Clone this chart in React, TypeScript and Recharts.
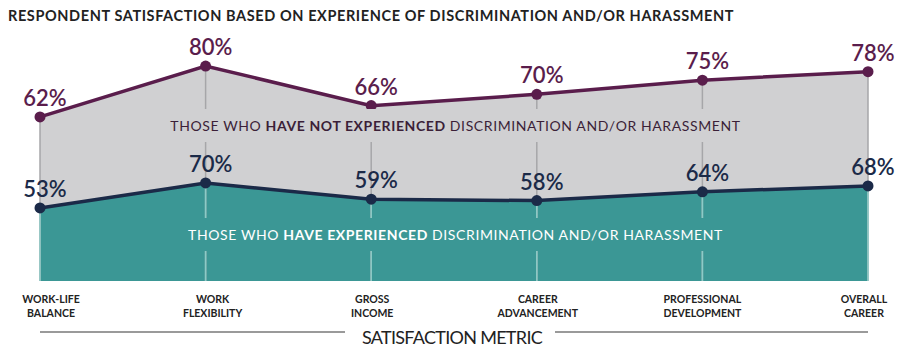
import React from 'react'
import { ComposedChart, Area, XAxis, YAxis, LabelList } from 'recharts'

const metrics = [
  'WORK-LIFE BALANCE',
  'WORK FLEXIBILITY',
  'GROSS INCOME',
  'CAREER ADVANCEMENT',
  'PROFESSIONAL DEVELOPMENT',
  'OVERALL CAREER',
]
const notExperienced = [62, 80, 66, 70, 75, 78]
const experienced = [53, 70, 59, 58, 64, 68]

const W = 909
const H = 353
const MARGIN = { top: 40, right: 41, bottom: 12, left: 40 }
const X_AXIS_H = 60
const PLOT_BOTTOM = H - MARGIN.bottom - X_AXIS_H
// the first tick labels sit a little right of their points in the original
const TICK_SHIFT = [11, 7, 1, 1, 0, -4]

const PURPLE = '#5a1d4c'
const NAVY = '#1b2a48'
const GREY = '#d0d0d2'
const TEAL = '#3b9795'
const FONT = 'Lato, "Open Sans", sans-serif'

const data = metrics.map((m, i) => ({
  metric: m,
  notExp: notExperienced[i],
  exp: experienced[i],
}))

const makeDot = (fill: string, guide: string) => (props: any) => {
  const { cx, cy, index } = props
  return (
    <g key={`d-${fill}-${index}`}>
      <line x1={cx} x2={cx} y1={cy} y2={PLOT_BOTTOM} stroke={guide} strokeWidth={1.5} />
      <circle cx={cx} cy={cy} r={5.5} fill={fill} />
    </g>
  )
}

const makeLabel = (color: string) => (props: any) => {
  const { x, y, value, index } = props
  return (
    <text
      key={`l-${color}-${index}`}
      x={x + 5}
      y={y - 11}
      textAnchor="middle"
      fill={color}
      fontFamily={FONT}
      fontSize={22}
      fontWeight={600}
    >
      {value}%
    </text>
  )
}

const CategoryTick = ({ x, y, payload, index }: any) => {
  const lines = String(payload.value).split(' ')
  const dx = TICK_SHIFT[index] || 0
  return (
    <g>
      {lines.map((ln, i) => (
        <text
          key={i}
          x={x + dx}
          y={y + 14 + i * 14}
          textAnchor="middle"
          fill="#222"
          fontFamily={FONT}
          fontSize={10.5}
          fontWeight={700}
        >
          {ln}
        </text>
      ))}
    </g>
  )
}

const AxisTitle = ({ viewBox }: any) => {
  const { x, y, width } = viewBox
  const cx = x + width / 2 - 2
  const ly = y + 51
  return (
    <g>
      <line x1={x} x2={cx - 107} y1={ly} y2={ly} stroke="#9a9a9a" strokeWidth={2} />
      <line x1={cx + 103} x2={x + width} y1={ly} y2={ly} stroke="#9a9a9a" strokeWidth={2} />
      <text
        x={cx}
        y={ly + 12}
        textAnchor="middle"
        fill="#222"
        fontFamily={FONT}
        fontSize={18}
        letterSpacing={-0.7}
      >
        SATISFACTION METRIC
      </text>
    </g>
  )
}

export default function App() {
  return (
    <div style={{ position: 'absolute', left: 0, top: 0, width: W, height: H, background: '#fff' }}>
      <div
        style={{
          position: 'absolute',
          left: 8,
          top: 7,
          fontFamily: FONT,
          fontWeight: 700,
          fontSize: 14.5,
          letterSpacing: 0.6,
          color: '#222',
          whiteSpace: 'nowrap',
        }}
      >
        RESPONDENT SATISFACTION BASED ON EXPERIENCE OF DISCRIMINATION AND/OR HARASSMENT
      </div>
      <ComposedChart width={W} height={H} data={data} margin={MARGIN}>
        <XAxis
          dataKey="metric"
          height={X_AXIS_H}
          axisLine={false}
          tickLine={false}
          interval={0}
          tick={<CategoryTick />}
          label={<AxisTitle />}
        />
        <YAxis yAxisId="top" hide domain={[4, 89.2]} />
        <YAxis yAxisId="bottom" hide domain={[3.3, 167.3]} />
        <Area
          yAxisId="top"
          type="linear"
          dataKey="notExp"
          stroke={PURPLE}
          strokeWidth={3.5}
          fill={GREY}
          fillOpacity={1}
          dot={makeDot(PURPLE, '#a6a6a9')}
          activeDot={false}
          isAnimationActive={false}
        >
          <LabelList dataKey="notExp" content={makeLabel(PURPLE)} />
        </Area>
        <Area
          yAxisId="bottom"
          type="linear"
          dataKey="exp"
          stroke={NAVY}
          strokeWidth={3.5}
          fill={TEAL}
          fillOpacity={1}
          dot={makeDot(NAVY, '#8ccbc7')}
          activeDot={false}
          isAnimationActive={false}
        >
          <LabelList dataKey="exp" content={makeLabel(NAVY)} />
        </Area>
      </ComposedChart>
      <div
        style={{
          position: 'absolute',
          left: 0,
          width: W,
          top: 117,
          textAlign: 'center',
          fontFamily: FONT,
          fontSize: 14,
          letterSpacing: 0.6,
          color: '#3b1f38',
          whiteSpace: 'nowrap',
        }}
      >
        <span style={{ background: GREY, padding: '8px 0', marginLeft: 2 }}>
          THOSE WHO <b>HAVE NOT EXPERIENCED</b> DISCRIMINATION AND/OR HARASSMENT
        </span>
      </div>
      <div
        style={{
          position: 'absolute',
          left: 0,
          width: W,
          top: 226,
          textAlign: 'center',
          fontFamily: FONT,
          fontSize: 14,
          letterSpacing: 0.6,
          color: '#fff',
          whiteSpace: 'nowrap',
        }}
      >
        <span style={{ background: TEAL, padding: '8px 0', marginLeft: 2 }}>
          THOSE WHO <b>HAVE EXPERIENCED</b> DISCRIMINATION AND/OR HARASSMENT
        </span>
      </div>
    </div>
  )
}
